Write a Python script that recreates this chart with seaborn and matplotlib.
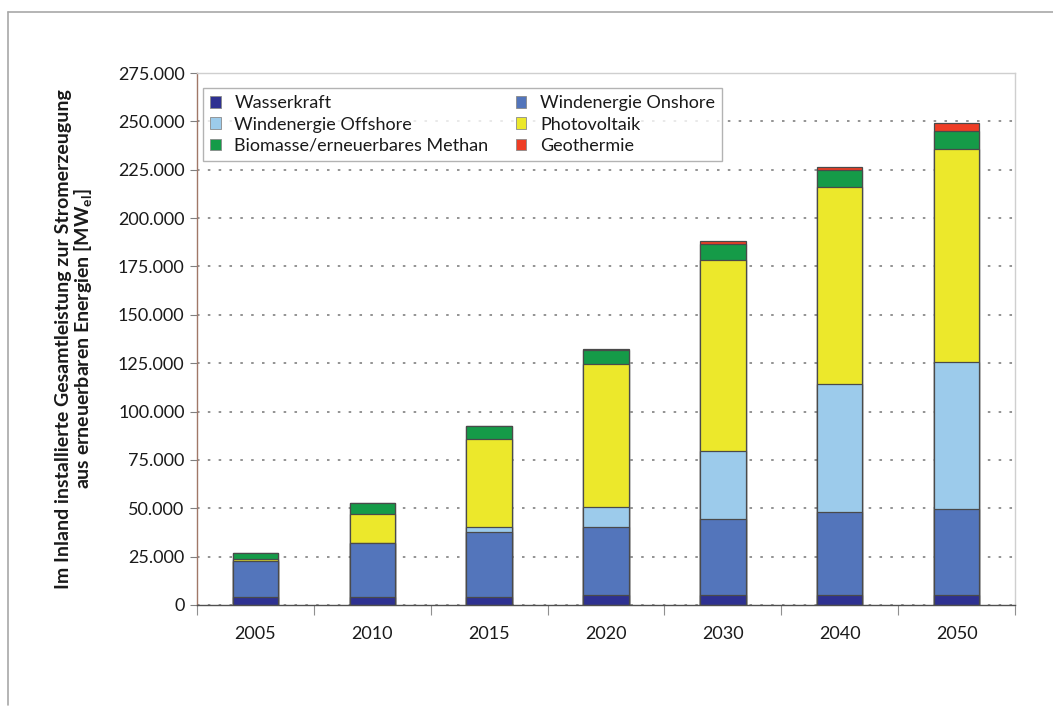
import matplotlib
matplotlib.use("Agg")
import matplotlib.pyplot as plt
from matplotlib.patches import Patch
from matplotlib.lines import Line2D
from matplotlib.ticker import FuncFormatter, FixedLocator
import numpy as np
import seaborn as sns

# Installed capacity for renewable power generation [MW_el]
years = ["2005", "2010", "2015", "2020", "2030", "2040", "2050"]
wasserkraft = [4100, 4200, 4300, 5000, 5000, 5200, 5200]
wind_onshore = [18400, 27800, 33400, 35300, 39300, 43000, 44300]
wind_offshore = [0, 0, 2600, 10300, 35200, 66000, 76200]
photovoltaik = [1500, 15000, 45500, 73900, 98700, 101900, 110200]
biomasse = [2800, 5700, 6700, 7200, 8300, 8600, 8900]
geothermie = [0, 0, 0, 800, 1500, 1700, 4300]

series_names = ["Wasserkraft", "Windenergie Onshore", "Windenergie Offshore",
                "Photovoltaik", "Biomasse/erneuerbares Methan", "Geothermie"]
series_values = [wasserkraft, wind_onshore, wind_offshore,
                 photovoltaik, biomasse, geothermie]
series_colors = ["#2e3191", "#5375bb", "#9ccbeb", "#ece82b", "#159b48", "#ee3d25"]

sns.set_theme(style="white")
plt.rcParams["font.family"] = ["Lato", "DejaVu Sans"]

fig = plt.figure(figsize=(10.53, 7.11), dpi=100)
ax = fig.add_axes([0.1871, 0.1491, 0.7768, 0.7482])

# stacked bars: draw cumulative totals from the top segment down
cum = np.cumsum(np.array(series_values, dtype=float), axis=0)
for i in range(len(series_names) - 1, -1, -1):
    sns.barplot(x=years, y=cum[i], color=series_colors[i], saturation=1,
                width=0.39, edgecolor="#4a4a4a", linewidth=0.9,
                errorbar=None, ax=ax)

ax.set_xlim(-0.5, len(years) - 0.5)
ax.set_ylim(0, 275000)
ax.set_xlabel("")
ax.set_ylabel("Im Inland installierte Gesamtleistung zur Stromerzeugung\n"
              "aus erneuerbaren Energien [MW$_\\mathregular{el}$]",
              fontsize=14, fontweight="bold", color="#1a1a1a",
              linespacing=1.05)
ax.yaxis.set_label_coords(-0.125, 0.5)

ax.set_yticks(np.arange(0, 275001, 25000))
ax.yaxis.set_major_formatter(FuncFormatter(lambda v, p: f"{int(v):,}".replace(",", ".")))
ax.tick_params(axis="y", which="major", left=True, length=5, width=0.8,
               color="#808080", labelsize=13, labelcolor="#1a1a1a", pad=4)

ax.set_xticks(range(len(years)))
ax.set_xticklabels(years)
ax.tick_params(axis="x", which="major", length=0, labelsize=13,
               labelcolor="#1a1a1a", pad=15)
ax.xaxis.set_minor_locator(FixedLocator(np.arange(-0.5, len(years), 1.0)))
ax.tick_params(axis="x", which="minor", bottom=True, length=7, width=0.8,
               color="#909090")

ax.yaxis.grid(True, linestyle=(0, (1.4, 4.6)), linewidth=1.3, color="#8a8a8a")
ax.xaxis.grid(False)
ax.set_axisbelow(True)

ax.spines["left"].set_color("#a07868")
ax.spines["left"].set_linewidth(1.0)
ax.spines["bottom"].set_color("#505050")
ax.spines["bottom"].set_linewidth(1.0)
for side in ("top", "right"):
    ax.spines[side].set_color("#cfcfcf")
    ax.spines[side].set_linewidth(1.0)

# legend filled column-wise: left column then right column
order = [0, 2, 4, 1, 3, 5]
handles = [Patch(facecolor=series_colors[i], edgecolor="#8a8a8a", linewidth=0.6)
           for i in order]
labels = [series_names[i] for i in order]
leg = ax.legend(handles, labels, ncol=2, loc="upper left",
                bbox_to_anchor=(0.007, 0.972), borderaxespad=0,
                fontsize=13, frameon=True, fancybox=False,
                handlelength=0.6, handleheight=0.6, handletextpad=0.75,
                labelspacing=0.3, columnspacing=1.5, borderpad=0.4)
leg.get_frame().set_edgecolor("#a0a0a0")
leg.get_frame().set_linewidth(1.0)
for t in leg.get_texts():
    t.set_color("#1a1a1a")

# outer frame lines
fig.add_artist(Line2D([8 / 1053, 1.0], [1 - 12 / 711, 1 - 12 / 711],
                      transform=fig.transFigure, color="#a8a8a8", linewidth=1.2))
fig.add_artist(Line2D([8 / 1053, 8 / 1053], [1 - 12 / 711, 1 - 705 / 711],
                      transform=fig.transFigure, color="#a8a8a8", linewidth=1.2))

fig.savefig("out.png", dpi=100, facecolor="white")
